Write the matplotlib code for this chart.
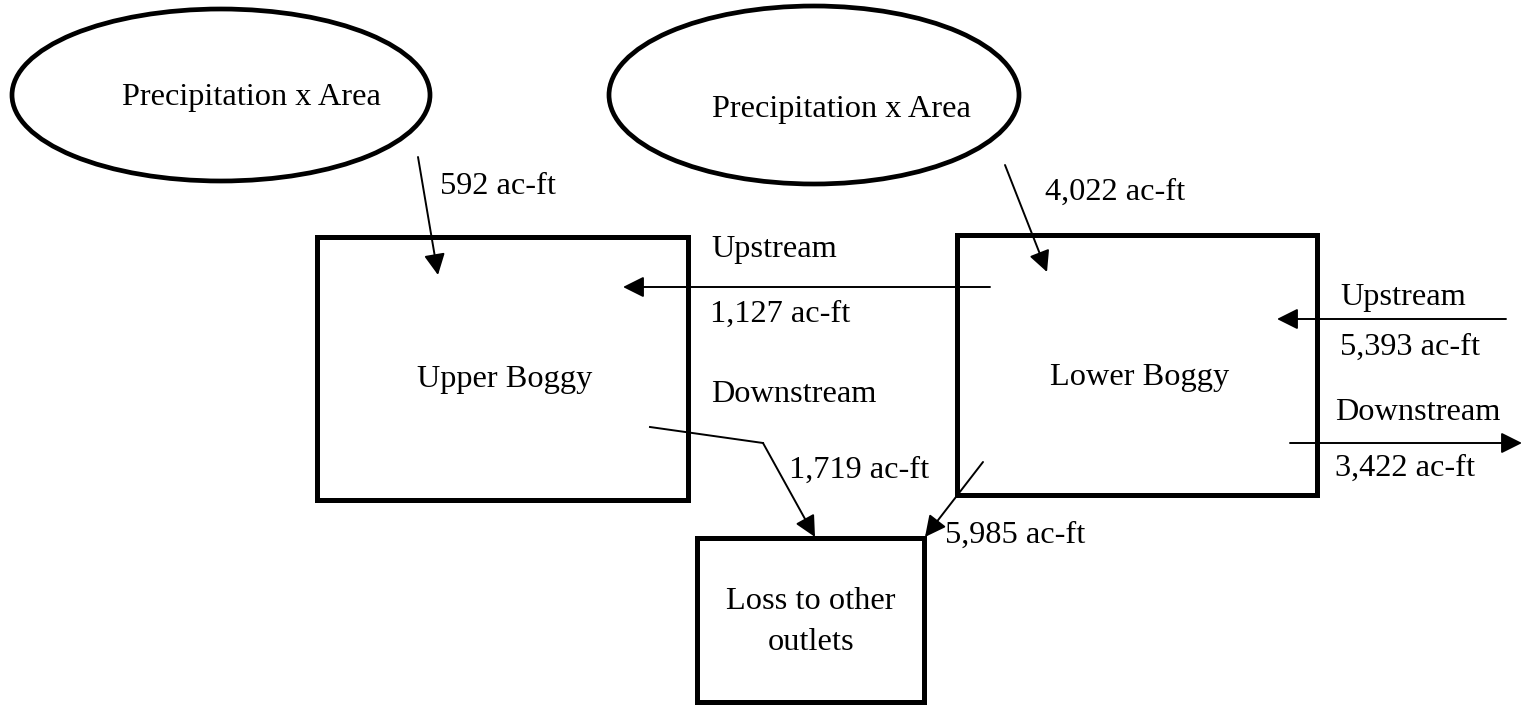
import matplotlib.pyplot as plt
from matplotlib.patches import Ellipse, Rectangle

plt.rcParams['font.family'] = ['Liberation Serif', 'DejaVu Serif']

# ellipses: (cx, cy, w, h)
ellipse_specs = [(221, 95, 418, 172), (814, 95, 410, 178)]
ellipse_label = 'Precipitation x Area'
ellipse_text_pos = [(251, 98), (841, 110)]

# boxes: (x0, y0, x1, y1) in pixel space
box_names = ['Upper Boggy', 'Lower Boggy', 'Loss to other\noutlets']
box_specs = [(317, 237, 688, 500), (957, 235, 1317, 495), (697, 538, 924, 702)]
box_text_pos = [(505, 380), (1140, 378), (811, 622)]

# flow labels
flow_labels = ['592 ac-ft', '4,022 ac-ft', 'Upstream', '1,127 ac-ft', 'Downstream',
               '1,719 ac-ft', '5,985 ac-ft', 'Upstream', '5,393 ac-ft',
               'Downstream', '3,422 ac-ft']
flow_label_pos = [(440, 186), (1045, 192), (711, 249), (710, 314), (711, 395),
                  (789, 470), (945, 535), (1340, 297), (1340, 347),
                  (1335, 413), (1335, 468)]

# arrows: (start, end)
arrows = [((418, 157), (438, 275)),
          ((1005, 165), (1047, 272)),
          ((990, 287), (623, 287)),
          ((1506, 319), (1277, 319)),
          ((1290, 443), (1522, 443)),
          ((763, 443), (815, 537)),
          ((983, 462), (925, 537))]
# plain segment before the downstream arrow
seg_x = [650, 763]
seg_y = [427, 443]

fig = plt.figure(figsize=(15.22, 7.05), dpi=100)
ax = fig.add_axes([0, 0, 1, 1])
ax.set_xlim(0, 1522)
ax.set_ylim(705, 0)
ax.axis('off')

fs = 23.3

for (cx, cy, w, h), (tx, ty) in zip(ellipse_specs, ellipse_text_pos):
    ax.add_patch(Ellipse((cx, cy), w, h, fill=False, lw=3.4, ec='black'))
    ax.text(tx, ty, ellipse_label, fontsize=fs, ha='center', va='center')

for (x0, y0, x1, y1), name, (tx, ty) in zip(box_specs, box_names, box_text_pos):
    ax.add_patch(Rectangle((x0, y0), x1 - x0, y1 - y0, fill=False, lw=3.6,
                           ec='black', joinstyle='miter'))
    ax.text(tx, ty, name, fontsize=fs, ha='center', va='center', linespacing=1.55)

for lab, (tx, ty) in zip(flow_labels, flow_label_pos):
    ax.text(tx, ty, lab, fontsize=fs, ha='left', va='center')

ax.plot(seg_x, seg_y, color='black', lw=1.4)
for start, end in arrows:
    ax.annotate('', xy=end, xytext=start,
                arrowprops=dict(arrowstyle='-|>', color='black', lw=1.4,
                                mutation_scale=32, shrinkA=0, shrinkB=0))

plt.savefig('out.png', dpi=100)
